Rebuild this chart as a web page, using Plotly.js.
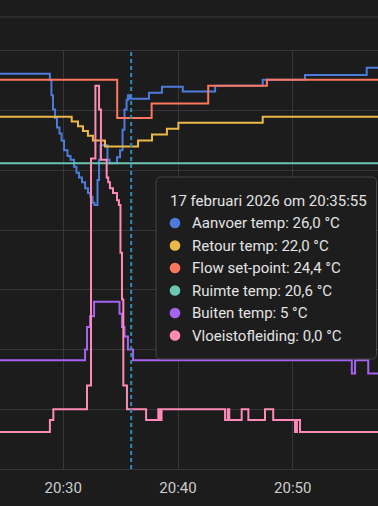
<!DOCTYPE html>
<html><head><meta charset="utf-8">
<script src="https://cdn.plot.ly/plotly-3.0.1.min.js"></script>
<style>html,body{margin:0;padding:0;background:#1c1c1c;}#chart{width:378px;height:506px;}</style>
</head><body><div id="chart"></div>
<script>
const DAY = '2026-02-17 ';
const seriesNames = ['Aanvoer temp','Retour temp','Flow set-point','Ruimte temp','Buiten temp','Vloeistofleiding'];
const seriesColors = ['#4c7bdc','#ecb847','#ff765e','#6cc5b0','#a463f2','#ff8ab7'];
const tooltipTitle = '17 februari 2026 om 20:35:55';
const tooltipValues = ['26,0 °C','22,0 °C','24,4 °C','20,6 °C','5 °C','0,0 °C'];
const cursorTime = '20:35:55';
const xTickLabelsFormat = '%H:%M';

const aanvoerTimes = ["20:20:00","20:28:50","20:28:58","20:29:06","20:29:17","20:29:27","20:29:40","20:29:51","20:30:04","20:30:22","20:30:38","20:30:56","20:31:09","20:31:22","20:31:38","20:31:54","20:32:09","20:32:22","20:32:33","20:32:43","20:32:59","20:33:07","20:33:15","20:33:51","20:34:02","20:34:41","20:34:57","20:35:10","20:35:20","20:35:31","20:35:38","20:35:49","20:37:28","20:38:36","20:40:25","20:43:14","20:47:23","20:51:04","20:56:27","20:58:00"];
const aanvoerValues = [28.1,27.6,26.3,25.1,24.4,23.6,23.1,22.5,21.7,21.2,20.9,20.3,19.8,19.4,19.0,18.5,18.1,17.8,17.3,17.1,19.2,20.9,22.1,20.9,20.6,21.1,21.7,23.4,25.1,25.9,26.3,26.0,26.5,27.0,26.6,27.1,27.6,28.0,28.6,28.6];

const retourTimes = ["20:20:00","20:30:44","20:31:17","20:31:43","20:32:09","20:32:35","20:33:38","20:36:31","20:37:44","20:39:02","20:40:02","20:47:23","20:58:00"];
const retourValues = [24.5,24.1,23.7,23.3,22.9,22.5,22.0,22.5,23.0,23.5,24.0,24.5,24.5];

const flowTimes = ["20:20:00","20:34:42","20:37:42","20:42:38","20:47:45","20:58:00"];
const flowValues = [27.6,24.4,25.6,27.1,27.6,27.6];

const ruimteTimes = ["20:20:00","20:58:00"];
const ruimteValues = [20.6,20.6];

const buitenTimes = ["20:20:00","20:31:54","20:32:04","20:32:20","20:32:41","20:34:54","20:35:07","20:35:20","20:35:38","20:36:05","20:55:09","20:55:26","20:56:35","20:58:00"];
const buitenValues = [4.1,5.0,6.9,7.8,9.0,8.0,6.9,6.1,5.0,4.1,3.0,4.1,3.0,3.0];

const vloeiTimes = ["20:20:00","20:28:50","20:29:08","20:32:04","20:32:25","20:32:48","20:33:07","20:33:17","20:33:47","20:33:55","20:34:04","20:34:20","20:34:41","20:34:51","20:34:59","20:35:07","20:35:14","20:35:33","20:37:13","20:38:17","20:38:26","20:38:34","20:44:06","20:44:20","20:44:28","20:45:33","20:46:08","20:47:35","20:48:18","20:50:12","20:50:22","20:50:38","20:58:00"];
const vloeiValues = [-1.9,-0.9,0.0,2.0,21.0,27.1,25.1,20.9,19.4,19.0,18.5,18.1,17.5,17.1,13.1,9.2,2.0,0.0,-0.9,0.0,-0.9,0.0,-0.9,0.0,-0.9,0.0,-0.9,0.0,-0.9,-1.9,-0.9,-1.9,-1.9];

const allTimes = [aanvoerTimes, retourTimes, flowTimes, ruimteTimes, buitenTimes, vloeiTimes];
const allValues = [aanvoerValues, retourValues, flowValues, ruimteValues, buitenValues, vloeiValues];

const traces = allTimes.map((ts, i) => ({
  type: 'scatter', mode: 'lines', name: seriesNames[i],
  x: ts.map(t => DAY + t), y: allValues[i],
  line: {color: seriesColors[i], width: 2, shape: 'hv'},
  hoverinfo: 'skip'
}));

const W = 378, TOP = 51, BOT = 469;
const px = x => x / W;
const py = y => (BOT - y) / (BOT - TOP);
const grid = '#363636';
const FONT = 'Roboto, "Noto Sans", sans-serif';

function roundRect(x0, y0, x1, y1, r) {
  const P = (x, y) => px(x) + ',' + py(y);
  return 'M' + P(x0 + r, y0) + ' L' + P(x1 - r, y0) + ' Q' + P(x1, y0) + ' ' + P(x1, y0 + r) +
    ' L' + P(x1, y1 - r) + ' Q' + P(x1, y1) + ' ' + P(x1 - r, y1) +
    ' L' + P(x0 + r, y1) + ' Q' + P(x0, y1) + ' ' + P(x0, y1 - r) +
    ' L' + P(x0, y0 + r) + ' Q' + P(x0, y0) + ' ' + P(x0 + r, y0) + ' Z';
}

const shapes = [
  {type: 'line', xref: 'paper', yref: 'paper', x0: 0, x1: 1, y0: py(17), y1: py(17), line: {color: '#3a3a3a', width: 1}},
  {type: 'line', xref: 'x', yref: 'paper', x0: DAY + cursorTime, x1: DAY + cursorTime, y0: 0, y1: 1,
   line: {color: '#2a8dbb', width: 2, dash: '4px,3px'}},
  {type: 'path', xref: 'paper', yref: 'paper', path: roundRect(156, 177, 376.5, 359, 5),
   fillcolor: '#1d1d1d', line: {color: '#454545', width: 1}, layer: 'above'}
];
const annotations = [
  {xref: 'paper', yref: 'paper', x: px(168), y: py(201), xanchor: 'left', yanchor: 'middle', showarrow: false,
   text: tooltipTitle, font: {family: FONT, size: 15, color: '#e3e3e3'}}
];
const rowY = [223, 245.5, 268, 290.5, 313, 335.5];
seriesNames.forEach((n, i) => {
  const cy = rowY[i], r = 5.3;
  shapes.push({type: 'circle', xref: 'paper', yref: 'paper', x0: px(175 - r), x1: px(175 + r), y0: py(cy + r), y1: py(cy - r),
    fillcolor: seriesColors[i], line: {width: 0}, layer: 'above'});
  annotations.push({xref: 'paper', yref: 'paper', x: px(190), y: py(cy), xanchor: 'left', yanchor: 'middle', showarrow: false,
    text: n + ': ' + tooltipValues[i], font: {family: FONT, size: 15, color: '#e3e3e3'}});
});

const layout = {
  width: 378, height: 506,
  paper_bgcolor: '#1c1c1c', plot_bgcolor: '#1c1c1c',
  margin: {l: 0, r: 0, t: TOP, b: 506 - BOT},
  showlegend: false,
  font: {family: FONT, color: '#cccccc', size: 15},
  xaxis: {type: 'date', range: [DAY + '20:24:29', DAY + '20:57:26'],
    tick0: DAY + '20:30:00', dtick: 600000, tickformat: xTickLabelsFormat,
    showgrid: true, gridcolor: grid, gridwidth: 1, zeroline: false,
    showline: true, linecolor: grid, linewidth: 1, mirror: true, ticks: '', ticklabelstandoff: 5,
    tickfont: {family: FONT, size: 15, color: '#cccccc'}},
  yaxis: {range: [-5, 30], tick0: -5, dtick: 5, showgrid: true, gridcolor: grid, gridwidth: 1,
    zeroline: false, showticklabels: false, ticks: ''},
  shapes: shapes, annotations: annotations
};
Plotly.newPlot('chart', traces, layout, {staticPlot: true, displayModeBar: false});
</script></body></html>
